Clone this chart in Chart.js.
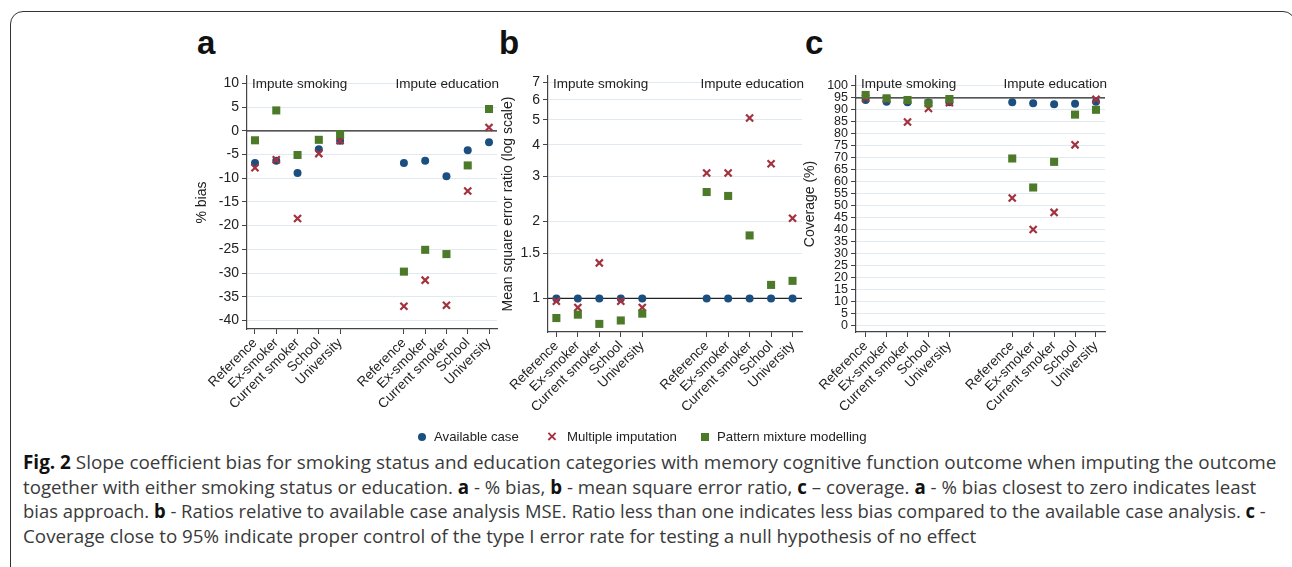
<!DOCTYPE html>
<html>
<head>
<meta charset="utf-8">
<script src="https://cdn.jsdelivr.net/npm/chart.js@4.4.1/dist/chart.umd.min.js"></script>
<style>
  body { margin: 0; background: #fff; width: 1292px; height: 567px; overflow: hidden; position: relative; font-family: "Liberation Sans", Arial, sans-serif; }
  #frame { position: absolute; left: 10px; top: 11px; width: 1286px; height: 620px; border: 1.5px solid #333; border-radius: 13px; box-sizing: border-box; }
  .letter { position: absolute; font: bold 33px "Liberation Sans", Arial, sans-serif; line-height: 33px; color: #111; }
  canvas { position: absolute; }
  .lg { position: absolute; font: 13.2px "Liberation Sans", Arial, sans-serif; color: #222; line-height: 16px; white-space: nowrap; }
  #caption { position: absolute; left: 23px; top: 450px; font: 18.8px "Open Sans", sans-serif; color: #3a3a3a; line-height: 24.5px; white-space: nowrap; }
  #caption span { display: inline-block; transform-origin: left center; }
  #caption b { color: #111; }
</style>
</head>
<body>
<div id="frame"></div>
<div class="letter" style="left:197px;top:26px">a</div>
<div class="letter" style="left:499px;top:26px">b</div>
<div class="letter" style="left:805px;top:26px">c</div>

<canvas id="chartA" width="315" height="370" style="left:190px;top:60px"></canvas>
<canvas id="chartB" width="315" height="370" style="left:496px;top:60px"></canvas>
<canvas id="chartC" width="315" height="370" style="left:798px;top:60px"></canvas>

<div class="lg" style="left:418px;top:433px;width:8px;height:8px;border-radius:50%;background:#1b4f7f"></div>
<div class="lg" style="left:434px;top:429px">Available case</div>
<div class="lg" style="left:547px;top:428px;color:#a3323f;font-size:17px;line-height:18px;font-weight:bold">×</div>
<div class="lg" style="left:567px;top:429px">Multiple imputation</div>
<div class="lg" style="left:701px;top:433px;width:8px;height:8px;background:#4d7a29"></div>
<div class="lg" style="left:717px;top:429px">Pattern mixture modelling</div>

<div id="caption">
<span style="transform:scaleX(1.006)"><b>Fig. 2</b> Slope coefficient bias for smoking status and education categories with memory cognitive function outcome when imputing the outcome</span><br>
<span style="transform:scaleX(0.995)">together with either smoking status or education. <b>a</b> - % bias, <b>b</b> - mean square error ratio, <b>c</b> – coverage. <b>a</b> - % bias closest to zero indicates least</span><br>
<span style="transform:scaleX(0.98)">bias approach. <b>b</b> - Ratios relative to available case analysis MSE. Ratio less than one indicates less bias compared to the available case analysis. <b>c</b> -</span><br>
<span>Coverage close to 95% indicate proper control of the type I error rate for testing a null hypothesis of no effect</span>
</div>

<script>
// categories and x slots (two groups: impute smoking / impute education)
const categories = ['Reference', 'Ex-smoker', 'Current smoker', 'School', 'University'];
const tickLabels = categories.concat(categories);
const xPos = [1, 2, 3, 4, 5, 8, 9, 10, 11, 12];
const groupLabels = ['Impute smoking', 'Impute education'];

// a - % bias
const biasAvailable = [-6.8, -6.3, -8.9, -3.9, -2.1, -6.8, -6.3, -9.6, -4.1, -2.4];
const biasMI = [-7.8, -6.1, -18.5, -4.8, -2.1, -37.0, -31.5, -36.8, -12.7, 0.7];
const biasPMM = [-2.0, 4.3, -5.1, -1.9, -0.7, -29.7, -25.1, -26.0, -7.3, 4.6];
const biasTicks = [-40, -35, -30, -25, -20, -15, -10, -5, 0, 5, 10];

// b - mean square error ratio
const mseAvailable = [1, 1, 1, 1, 1, 1, 1, 1, 1, 1];
const mseMI = [0.976, 0.921, 1.378, 0.976, 0.921, 3.10, 3.10, 5.09, 3.37, 2.06];
const msePMM = [0.838, 0.864, 0.795, 0.820, 0.872, 2.61, 2.52, 1.765, 1.13, 1.172];
const mseTicks = [1, 1.5, 2, 3, 4, 5, 6, 7];

// c - coverage (%)
const covAvailable = [94.1, 93.4, 93.1, 93.0, 93.2, 93.2, 92.7, 92.3, 92.5, 93.4];
const covMI = [94.8, 94.4, 84.9, 90.6, 93.0, 53.2, 40.1, 47.2, 75.4, 94.4];
const covPMM = [96.2, 94.8, 94.1, 92.7, 94.5, 69.7, 57.6, 68.3, 88.0, 90.0];
const covTicks = [0, 5, 10, 15, 20, 25, 30, 35, 40, 45, 50, 55, 60, 65, 70, 75, 80, 85, 90, 95, 100];

const blue = '#1b4f7f';
const red = '#a3323f';
const green = '#4d7a29';
const font = '"Liberation Sans", Arial, sans-serif';

function pts(vals) {
    return vals.map((v, i) => ({ x: xPos[i], y: v }));
}

// "Impute smoking" / "Impute education" headers inside each plot
const groupText = {
    id: 'groupText',
    beforeDatasetsDraw(chart) {
        const { ctx, chartArea } = chart;
        ctx.save();
        ctx.font = '13.5px ' + font;
        ctx.fillStyle = '#222';
        ctx.textBaseline = 'middle';
        ctx.textAlign = 'left';
        ctx.fillText(groupLabels[0], chartArea.left + 5, chartArea.top + 8);
        ctx.textAlign = 'right';
        ctx.fillText(groupLabels[1], chartArea.right + 2, chartArea.top + 8);
        ctx.restore();
    }
};

function makePanel(id, o) {
    return new Chart(document.getElementById(id), {
        type: 'scatter',
        data: {
            datasets: [
                {
                    label: 'reference',
                    data: [{ x: o.xMin, y: o.refY }, { x: o.xMax, y: o.refY }],
                    showLine: true,
                    borderColor: '#222',
                    borderWidth: 1.3,
                    pointRadius: 0,
                    order: 3
                },
                {
                    label: 'Available case',
                    data: pts(o.avail),
                    pointStyle: 'circle',
                    pointRadius: 4,
                    backgroundColor: blue,
                    borderColor: blue,
                    borderWidth: 0,
                    order: 2
                },
                {
                    label: 'Multiple imputation',
                    data: pts(o.mi),
                    pointStyle: 'crossRot',
                    pointRadius: 5,
                    borderColor: red,
                    borderWidth: 2.2,
                    order: 1
                },
                {
                    label: 'Pattern mixture modelling',
                    data: pts(o.pmm),
                    pointStyle: 'rect',
                    pointRadius: 5.7,
                    backgroundColor: green,
                    borderColor: green,
                    borderWidth: 0,
                    order: 0
                }
            ]
        },
        options: {
            responsive: false,
            animation: false,
            events: [],
            layout: { padding: { top: 16, right: o.padRight, left: 0, bottom: 0 } },
            plugins: { legend: { display: false }, tooltip: { enabled: false } },
            scales: {
                x: {
                    type: 'linear',
                    bounds: 'data',
                    min: o.xMin,
                    max: o.xMax,
                    afterBuildTicks: s => { s.ticks = xPos.map(v => ({ value: v })); },
                    afterFit: s => { s.height = o.xHeight; },
                    ticks: {
                        autoSkip: false,
                        maxRotation: 45,
                        minRotation: 45,
                        padding: 1,
                        color: '#222',
                        font: { size: 13.5, family: font },
                        callback: (v, i) => tickLabels[i]
                    },
                    grid: { drawOnChartArea: false, drawTicks: true, tickLength: 5, tickColor: '#444' },
                    border: { display: true, color: '#444', width: 1.2 }
                },
                y: {
                    type: o.yType,
                    bounds: 'data',
                    min: o.yMin,
                    max: o.yMax,
                    afterBuildTicks: s => { s.ticks = o.yTicks.map(v => ({ value: v })); },
                    afterFit: s => { s.width = o.yWidth; },
                    ticks: {
                        autoSkip: false,
                        padding: 3,
                        color: '#222',
                        font: { size: o.tickSize, family: o.tickFamily || font },
                        callback: v => String(v)
                    },
                    grid: { color: '#e1e9f1', lineWidth: 1, tickLength: 5, tickColor: '#444' },
                    border: { display: true, color: '#444', width: 1.2 },
                    title: {
                        display: true,
                        text: o.yTitle,
                        color: '#222',
                        font: { size: 14, family: font },
                        padding: { top: 4, bottom: 0 }
                    }
                }
            }
        },
        plugins: [groupText]
    });
}

makePanel('chartA', {
    avail: biasAvailable, mi: biasMI, pmm: biasPMM, refY: 0,
    xMin: 0.624, xMax: 12.376,
    yType: 'linear', yMin: -41.8, yMax: 11.56, yTicks: biasTicks,
    yTitle: '% bias', yWidth: 57, xHeight: 101, padRight: 8, tickSize: 14
});

makePanel('chartB', {
    avail: mseAvailable, mi: mseMI, pmm: msePMM, refY: 1,
    xMin: 0.61, xMax: 12.44,
    yType: 'logarithmic', yMin: 0.739, yMax: 7.43, yTicks: mseTicks,
    yTitle: 'Mean square error ratio (log scale)', yWidth: 52, xHeight: 98, padRight: 9, tickSize: 14
});

makePanel('chartC', {
    avail: covAvailable, mi: covMI, pmm: covPMM, refY: 95,
    xMin: 0.54, xMax: 12.43,
    yType: 'linear', yMin: -2.67, yMax: 104.1, yTicks: covTicks,
    yTitle: 'Coverage (%)', yWidth: 58, xHeight: 98, padRight: 8, tickSize: 12.5,
    tickFamily: '"Liberation Sans Narrow", "Arial Narrow", "Liberation Sans", sans-serif'
});
</script>
</body>
</html>
